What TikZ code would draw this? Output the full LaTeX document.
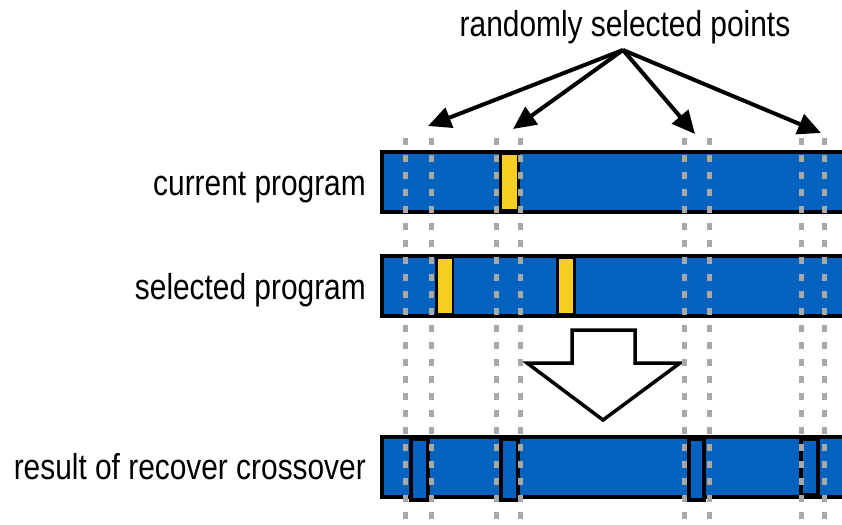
\documentclass[tikz,border=0pt]{standalone}
\usepackage{fontspec}
\setmainfont{Liberation Sans}
\usetikzlibrary{arrows.meta}
\definecolor{genblue}{HTML}{0562BF}
\definecolor{genyellow}{HTML}{F6CE1F}
\definecolor{cutgray}{HTML}{A8A8A8}
\tikzset{
  lbl/.style={inner sep=0pt, font=\fontsize{36}{40}\selectfont},
  genome/.style={draw=black, line width=4.5pt, fill=genblue},
  swapped/.style={draw=black, line width=2.5pt, fill=genyellow},
  inserted/.style={draw=black, line width=4pt, fill=genblue},
  cutline/.style={draw=cutgray, line width=5pt, dash pattern=on 7pt off 10pt},
  pointer/.style={draw=black, line width=4pt, -{Triangle[length=23pt,width=21pt]}},
  bigarrow/.style={draw=black, line width=3.5pt, fill=white, line join=miter}
}
\newcommand{\narrow}[1]{\scalebox{0.83}[1]{#1}}
\begin{document}
\begin{tikzpicture}[x=1pt, y=-1pt]
\useasboundingbox (0,0) rectangle (842,524);
\clip (0,0) rectangle (842,524);

% labels
\node[lbl, anchor=base] (title) at (625,37) {\narrow{randomly selected points}};
\node[lbl, anchor=base east] (lcur) at (366,195) {\narrow{current program}};
\node[lbl, anchor=base east] (lsel) at (366,299) {\narrow{selected program}};
\node[lbl, anchor=base east] (lres) at (366,479) {\narrow{result of recover crossover}};

% program bars
\draw[genome] (382,152) rectangle (860,212);
\draw[genome] (382,256) rectangle (860,316);
\draw[genome] (382,437) rectangle (860,497);

% segments to exchange
\draw[swapped] (500.5,154) rectangle (518.5,210);
\draw[swapped] (436.5,258) rectangle (453,314);
\draw[swapped] (557.5,258) rectangle (574.5,314);

% exchanged segments in the offspring
\draw[inserted] (411,439) rectangle (428,500);
\draw[inserted] (501,439) rectangle (518,500);
\draw[inserted] (689,439) rectangle (704,500);
\draw[inserted] (801,439) rectangle (818,495);

% transition arrow
\draw[bigarrow] (572,330) -- (635,330) -- (635,363) -- (680,363) -- (603,420)
  -- (527,363) -- (572,363) -- cycle;

% crossover cut points
\foreach \x in {405,431,496,520,684,709,801,824}
  \draw[cutline] (\x,138) -- (\x,530);

% pointers from the caption
\coordinate (src) at (623,50);
\coordinate (p1) at (428,126);
\coordinate (p2) at (513,129);
\coordinate (p3) at (695,134);
\coordinate (p4) at (821,133);
\draw[pointer] (src) -- (p1);
\draw[pointer] (src) -- (p2);
\draw[pointer] (src) -- (p3);
\draw[pointer] (src) -- (p4);
\end{tikzpicture}
\end{document}
